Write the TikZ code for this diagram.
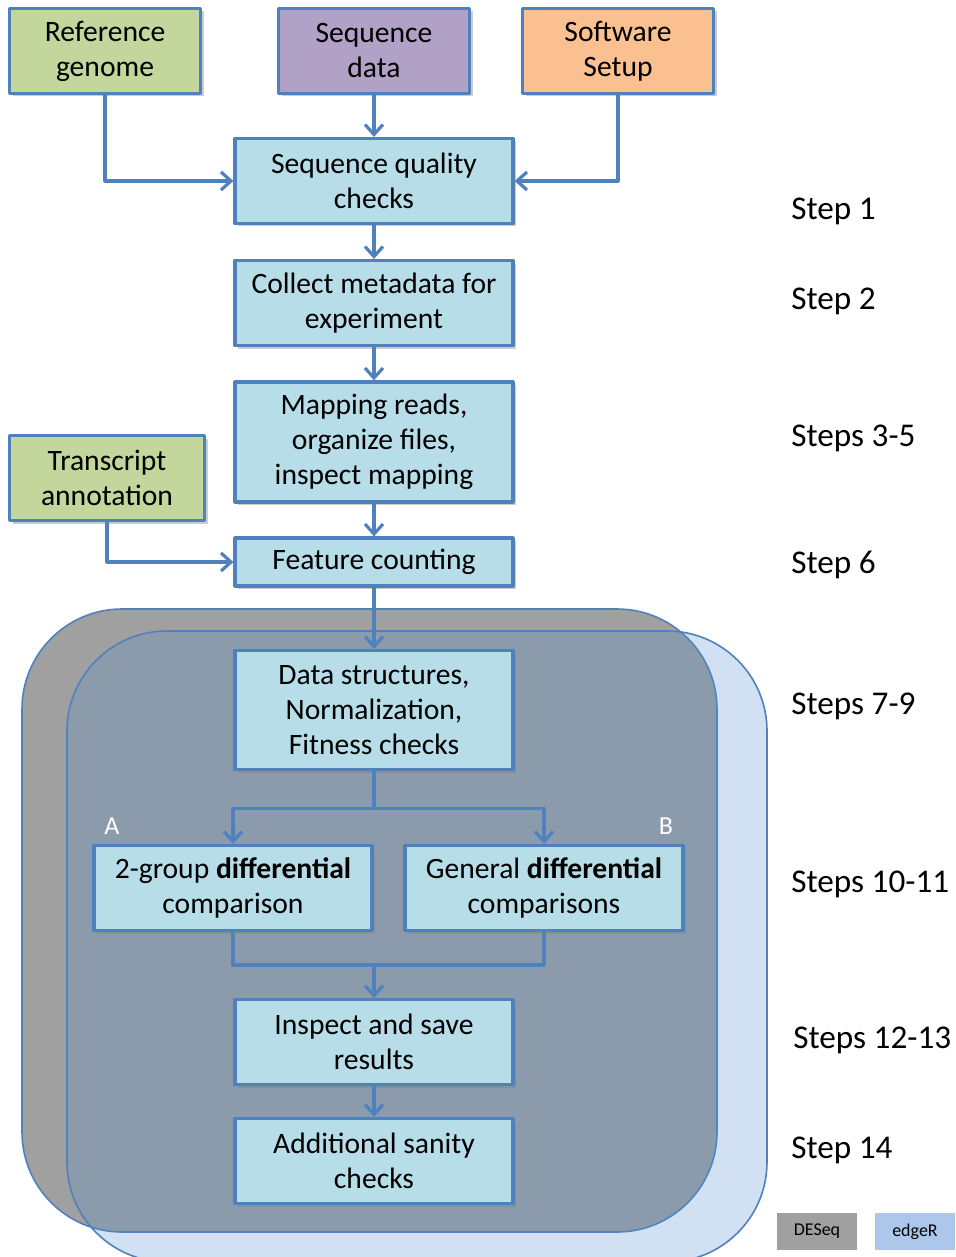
\documentclass[tikz,border=0pt]{standalone}
\usepackage{fontspec}
\setmainfont{Carlito}
\usetikzlibrary{arrows.meta,shadows}
\definecolor{boxblue}{RGB}{183,221,232}
\definecolor{lineblue}{RGB}{79,129,189}
\definecolor{refgreen}{RGB}{195,214,155}
\definecolor{seqpurple}{RGB}{178,161,199}
\definecolor{softorange}{RGB}{250,192,144}
\definecolor{deseqgray}{RGB}{160,160,160}
\definecolor{edgerblue}{RGB}{84,142,208}
\definecolor{legendblue}{RGB}{173,199,236}
\begin{document}
\begin{tikzpicture}[x=0.5pt,y=-0.5pt,line join=round,>={Straight Barb[length=5pt,width=9pt]},
  stepbox/.style={draw=lineblue,line width=1.6pt,fill=boxblue,minimum width=139pt,minimum height=42.5pt,
    align=center,font=\fontsize{14.8}{17.5}\selectfont,
    drop shadow={shadow xshift=1.5pt,shadow yshift=-1.5pt,opacity=0.4}},
  inputbox/.style={stepbox,minimum width=95.5pt},
  flow/.style={draw=lineblue,line width=1.6pt,->},
  steplabel/.style={anchor=west,inner sep=0pt,font=\fontsize{16.6}{19}\selectfont},
  legend/.style={minimum width=40pt,minimum height=18.5pt,font=\fontsize{9}{10}\selectfont}]
  \useasboundingbox (0,0) rectangle (955,1257);
  % DESeq and edgeR areas
  \draw [lineblue, line width=0.8pt, fill=deseqgray, rounded corners=50pt] (22,609) rectangle (717,1232);
  \draw [lineblue, line width=0.8pt, fill=edgerblue, fill opacity=0.27, rounded corners=50pt] (67,631) rectangle (767,1262);
  % inputs
  \node [inputbox, fill=refgreen]   (refgen) at (105,51)  {Reference\\genome};
  \node [inputbox, fill=seqpurple]  (seqdat) at (374,51)  {Sequence\\data};
  \node [inputbox, fill=softorange] (softw)  at (618,51)  {Software\\Setup};
  \node [inputbox, fill=refgreen, minimum width=97.5pt] (transc) at (107,478) {Transcript\\annotation};
  % steps
  \node [stepbox] (qual)    at (374,181)  {Sequence quality\\checks};
  \node [stepbox] (meta)    at (374,303)  {Collect metadata for\\experiment};
  \node [stepbox, minimum height=60pt] (mapping) at (374,442) {Mapping reads,\\organize files,\\inspect mapping};
  \node [stepbox, minimum height=24pt] (feat) at (374,562) {Feature counting};
  \node [stepbox, minimum height=59.5pt] (datastr) at (374,710) {Data structures,\\Normalization,\\Fitness checks};
  \node [stepbox] (twogrp)  at (233,888)  {2-group \textbf{differential}\\comparison};
  \node [stepbox] (general) at (544,888)  {General \textbf{differential}\\comparisons};
  \node [stepbox] (inspect) at (374,1042) {Inspect and save\\results};
  \node [stepbox] (sanity)  at (374,1161) {Additional sanity\\checks};
  \node [white, font=\fontsize{13}{15}\selectfont] (labA) at (112,826) {A};
  \node [white, font=\fontsize{13}{15}\selectfont] (labB) at (666,826) {B};
  % connectors
  \draw [flow] (refgen.south) |- (qual.west);
  \draw [flow] (softw.south) |- (qual.east);
  \draw [flow] (seqdat) -- (qual);
  \draw [flow] (qual) -- (meta);
  \draw [flow] (meta) -- (mapping);
  \draw [flow] (mapping) -- (feat);
  \draw [flow] (transc.south) |- (feat.west);
  \draw [flow] (feat) -- (datastr);
  \draw [flow] (datastr.south) -- ++(0,37) -| (twogrp.north);
  \draw [flow] (datastr.south) -- ++(0,37) -| (general.north);
  \draw [flow, -] (twogrp.south) |- (374,965) -| (general.south);
  \draw [flow] (374,963) -- (inspect.north);
  \draw [flow] (inspect) -- (sanity);
  % step labels
  \node [steplabel] (s1)  at (791,211)  {Step 1};
  \node [steplabel] (s2)  at (791,301)  {Step 2};
  \node [steplabel] (s3)  at (791,438)  {Steps 3-5};
  \node [steplabel] (s6)  at (791,565)  {Step 6};
  \node [steplabel] (s7)  at (791,706)  {Steps 7-9};
  \node [steplabel] (s10) at (791,884)  {Steps 10-11};
  \node [steplabel] (s12) at (793,1040) {Steps 12-13};
  \node [steplabel] (s14) at (791,1150) {Step 14};
  % legend
  \node [legend, fill=deseqgray]  (deseq) at (817,1231.5) {DESeq};
  \node [legend, fill=legendblue] (edger) at (915,1231.5) {edgeR};
\end{tikzpicture}
\end{document}
